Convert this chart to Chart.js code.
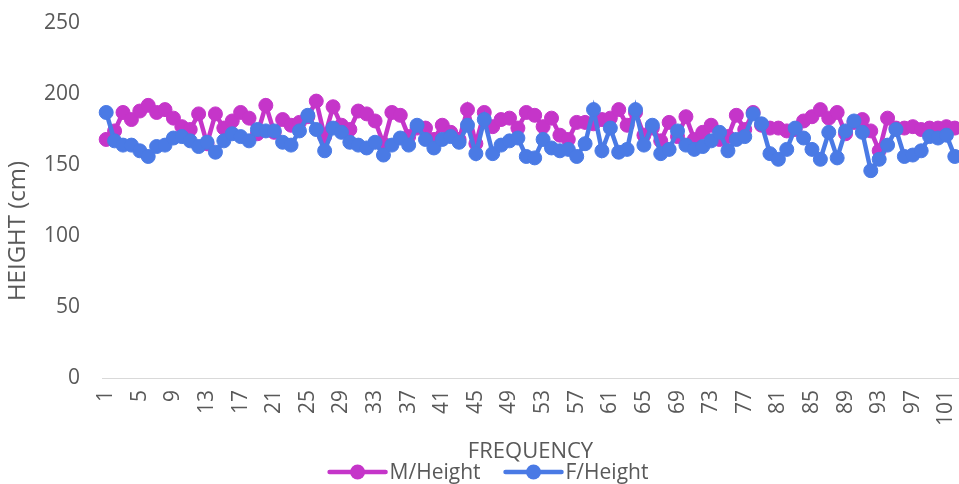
<!DOCTYPE html>
<html><head><meta charset="utf-8">
<script src="https://cdn.jsdelivr.net/npm/chart.js@4"></script>
<style>html,body{margin:0;padding:0;background:#fff;overflow:hidden}#wrap{width:959px;height:484px;position:relative}</style>
</head><body><div id="wrap"><canvas id="c" width="959" height="484"></canvas></div>
<script>
const categories = ['1','2','3','4','5','6','7','8','9','10','11','12','13','14','15','16','17','18','19','20','21','22','23','24','25','26','27','28','29','30','31','32','33','34','35','36','37','38','39','40','41','42','43','44','45','46','47','48','49','50','51','52','53','54','55','56','57','58','59','60','61','62','63','64','65','66','67','68','69','70','71','72','73','74','75','76','77','78','79','80','81','82','83','84','85','86','87','88','89','90','91','92','93','94','95','96','97','98','99','100','101','102'];
const maleHeight = [168,174,187,182,188,192,187,189,183,177,
  175,186,165,186,176,181,187,183,172,192,
  173,182,178,180,184,195,170,191,178,175,
  188,186,181,165,187,185,170,176,176,168,
  178,173,168,189,165,187,177,182,183,176,
  187,185,177,183,171,168,180,180,179,182,
  183,189,178,187,171,176,167,180,170,184,
  168,173,178,168,170,185,175,187,178,176,
  176,174,175,181,184,189,183,187,172,180,
  182,174,160,183,176,176,177,175,176,176,
  177,176];
const femaleHeight = [187,167,164,164,160,156,163,164,169,170,
  167,163,166,159,167,172,170,167,175,174,
  174,166,164,174,185,175,160,176,173,166,
  164,162,166,157,164,169,164,178,168,162,
  168,170,166,178,158,182,158,164,167,169,
  156,155,168,162,160,161,156,165,189,160,
  176,159,161,189,164,178,158,161,174,164,
  161,163,167,173,160,168,170,186,179,158,
  154,161,176,169,161,154,173,155,174,181,
  173,146,154,164,175,156,157,160,170,169,
  171,156];
const xTickLabels = ['1','5','9','13','17','21','25','29','33','37','41','45','49','53','57','61','65','69','73','77','81','85','89','93','97','101'];
const yTickValues = [0,50,100,150,200,250];
const seriesNames = ['M/Height','F/Height'];
const seriesColors = ['#C535C9','#4A7AE5'];
const yTitleText = 'HEIGHT (cm)';
const xTitleText = 'FREQUENCY';

const FONT = '"Open Sans", "Noto Sans", sans-serif';
const TEXT = '#595959';

const legendPlugin = {
  id: 'excelLegend',
  afterDraw(chart) {
    const ctx = chart.ctx;
    const ds = chart.data.datasets;
    ctx.save();
    ctx.font = '24px ' + FONT;
    ctx.fillStyle = TEXT; ctx.textAlign = 'center'; ctx.textBaseline = 'middle';
    ctx.translate(18, 231); ctx.rotate(-Math.PI / 2);
    ctx.fillText(yTitleText, 0, 0);
    ctx.restore();
    ctx.save();
    ctx.font = '21px ' + FONT;
    const lineW = 56, gapText = 4, gapItem = 25;
    const widths = ds.map(d => lineW + gapText + ctx.measureText(d.label).width);
    const total = widths.reduce((a, b) => a + b, 0) + gapItem * (ds.length - 1);
    let x = 489 - total / 2;
    const y = 472;
    ds.forEach((d, i) => {
      ctx.strokeStyle = d.borderColor; ctx.lineWidth = 4.5; ctx.lineCap = 'round';
      ctx.beginPath(); ctx.moveTo(x, y); ctx.lineTo(x + lineW, y); ctx.stroke();
      ctx.fillStyle = d.borderColor;
      ctx.beginPath(); ctx.arc(x + lineW / 2, y, 7.5, 0, Math.PI * 2); ctx.fill();
      ctx.fillStyle = TEXT; ctx.textBaseline = 'middle'; ctx.textAlign = 'left';
      ctx.fillText(d.label, x + lineW + gapText, y + 1);
      x += widths[i] + gapItem;
    });
    ctx.restore();
  }
};

new Chart(document.getElementById('c'), {
  type: 'line',
  data: {
    labels: categories,
    datasets: [
      { label: seriesNames[0], data: maleHeight, borderColor: seriesColors[0], backgroundColor: seriesColors[0],
        borderWidth: 4.5, pointRadius: 7, pointBorderWidth: 1, pointBackgroundColor: seriesColors[0], pointBorderColor: seriesColors[0],
        tension: 0, clip: false, order: 1 },
      { label: seriesNames[1], data: femaleHeight, borderColor: seriesColors[1], backgroundColor: seriesColors[1],
        borderWidth: 4.5, pointRadius: 7, pointBorderWidth: 1, pointBackgroundColor: seriesColors[1], pointBorderColor: seriesColors[1],
        tension: 0, clip: false, order: 0 }
    ]
  },
  options: {
    responsive: false,
    animation: false,
    devicePixelRatio: 1,
    layout: { autoPadding: false, padding: { left: 0, right: 0, top: 23, bottom: 19 } },
    plugins: { legend: { display: false }, tooltip: { enabled: false } },
    scales: {
      x: {
        offset: true,
        grid: { display: false, drawTicks: false },
        border: { display: true, color: '#D9D9D9', width: 1 },
        afterFit: s => { s.height = 87; s.paddingLeft = 0; s.paddingRight = 0; },
        ticks: {
          autoSkip: false, maxRotation: 90, minRotation: 90, padding: 12,
          color: TEXT, font: { family: FONT, size: 21 },
          callback: function(v, i) { const l = categories[i]; return xTickLabels.includes(l) ? l : null; }
        },
        title: { display: true, text: xTitleText, color: TEXT, font: { family: FONT, size: 22 }, padding: { top: 0, bottom: 0 } }
      },
      y: {
        min: yTickValues[0], max: yTickValues[yTickValues.length - 1],
        grid: { display: false, drawTicks: false },
        border: { display: false },
        afterBuildTicks: s => { s.ticks = yTickValues.map(v => ({ value: v })); },
        afterFit: s => { s.width = 102; s.paddingTop = 0; s.paddingBottom = 0; },
        ticks: { color: TEXT, font: { family: FONT, size: 21 }, padding: 22 },
        title: { display: false }
      }
    }
  },
  plugins: [legendPlugin]
});
</script>
</body></html>
